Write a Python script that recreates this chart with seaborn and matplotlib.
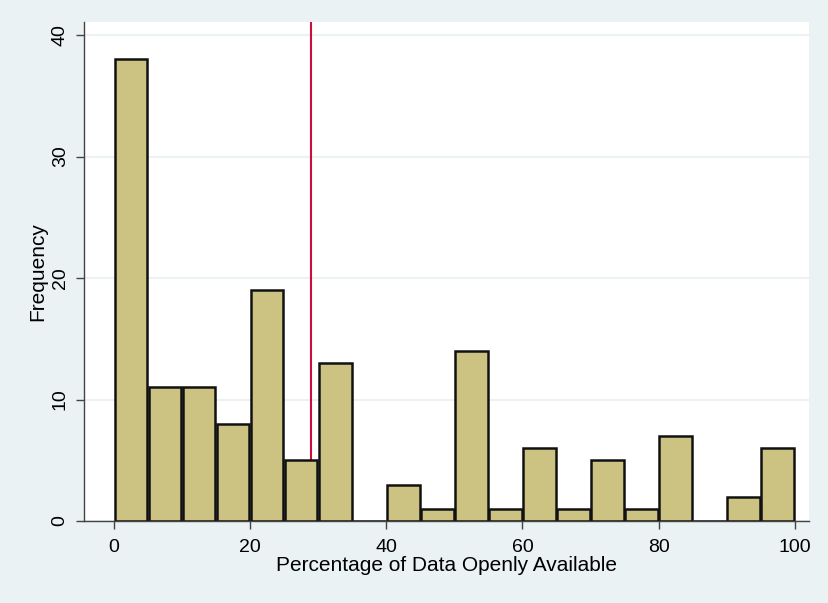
import numpy as np
import pandas as pd
import matplotlib.pyplot as plt
import seaborn as sns

# ============================================================
# DATA: histogram counts, bins of width 5 from 0 to 100
# ============================================================
bin_edges = list(range(0, 105, 5))
counts = [38, 11, 11, 8, 19, 5, 13, 0, 3, 1, 14, 1, 6, 1, 5, 1, 7, 0, 2, 6]
mean_line = 29
x_ticks = [0, 20, 40, 60, 80, 100]
y_ticks = [0, 10, 20, 30, 40]

bin_mids = [e + 2.5 for e in bin_edges[:-1]]
df = pd.DataFrame({'pct': bin_mids, 'n': counts})

# ============================================================
# PLOT
# ============================================================
sns.set_style('white')
plt.rcParams['font.family'] = ['Liberation Sans', 'DejaVu Sans']
plt.rcParams['text.color'] = 'black'
plt.rcParams['xtick.color'] = 'black'
plt.rcParams['ytick.color'] = 'black'
plt.rcParams['axes.labelcolor'] = 'black'

bg = '#EAF2F3'
fig = plt.figure(figsize=(8.29, 6.03), dpi=100, facecolor=bg)
ax = fig.add_axes([84 / 829, 1 - 521 / 603, (809 - 84) / 829, (521 - 22) / 603])
ax.set_facecolor('white')

for y in y_ticks:
    ax.axhline(y, color=bg, lw=1.5, zorder=0)

# red reference line sits behind the bars
ax.axvline(mean_line, color='#C8103A', lw=1.5, zorder=1)

sns.histplot(data=df, x='pct', weights='n', bins=bin_edges, ax=ax, shrink=0.96,
             color='#CCC382', alpha=1, edgecolor='#111111', linewidth=1.8, zorder=2)

ax.set_xlim(-4.4, 102.1)
ax.set_ylim(0, 41.07)
ax.set_xticks(x_ticks)
ax.set_yticks(y_ticks)
ax.set_yticklabels([str(v) for v in y_ticks], rotation=90, va='center')
ax.tick_params(axis='both', labelsize=14, length=6, width=1, color='#444444',
               labelcolor='black', direction='out', left=True, bottom=True)
ax.tick_params(axis='x', pad=7)
ax.tick_params(axis='y', pad=5)
ax.set_xlabel('Percentage of Data Openly Available', fontsize=15, labelpad=0)
ax.set_ylabel('Frequency', fontsize=15, labelpad=3)

for s in ['top', 'right']:
    ax.spines[s].set_visible(False)
for s in ['left', 'bottom']:
    ax.spines[s].set_color('#444444')
    ax.spines[s].set_linewidth(1)

fig.savefig('out.png', dpi=100, facecolor=bg)
